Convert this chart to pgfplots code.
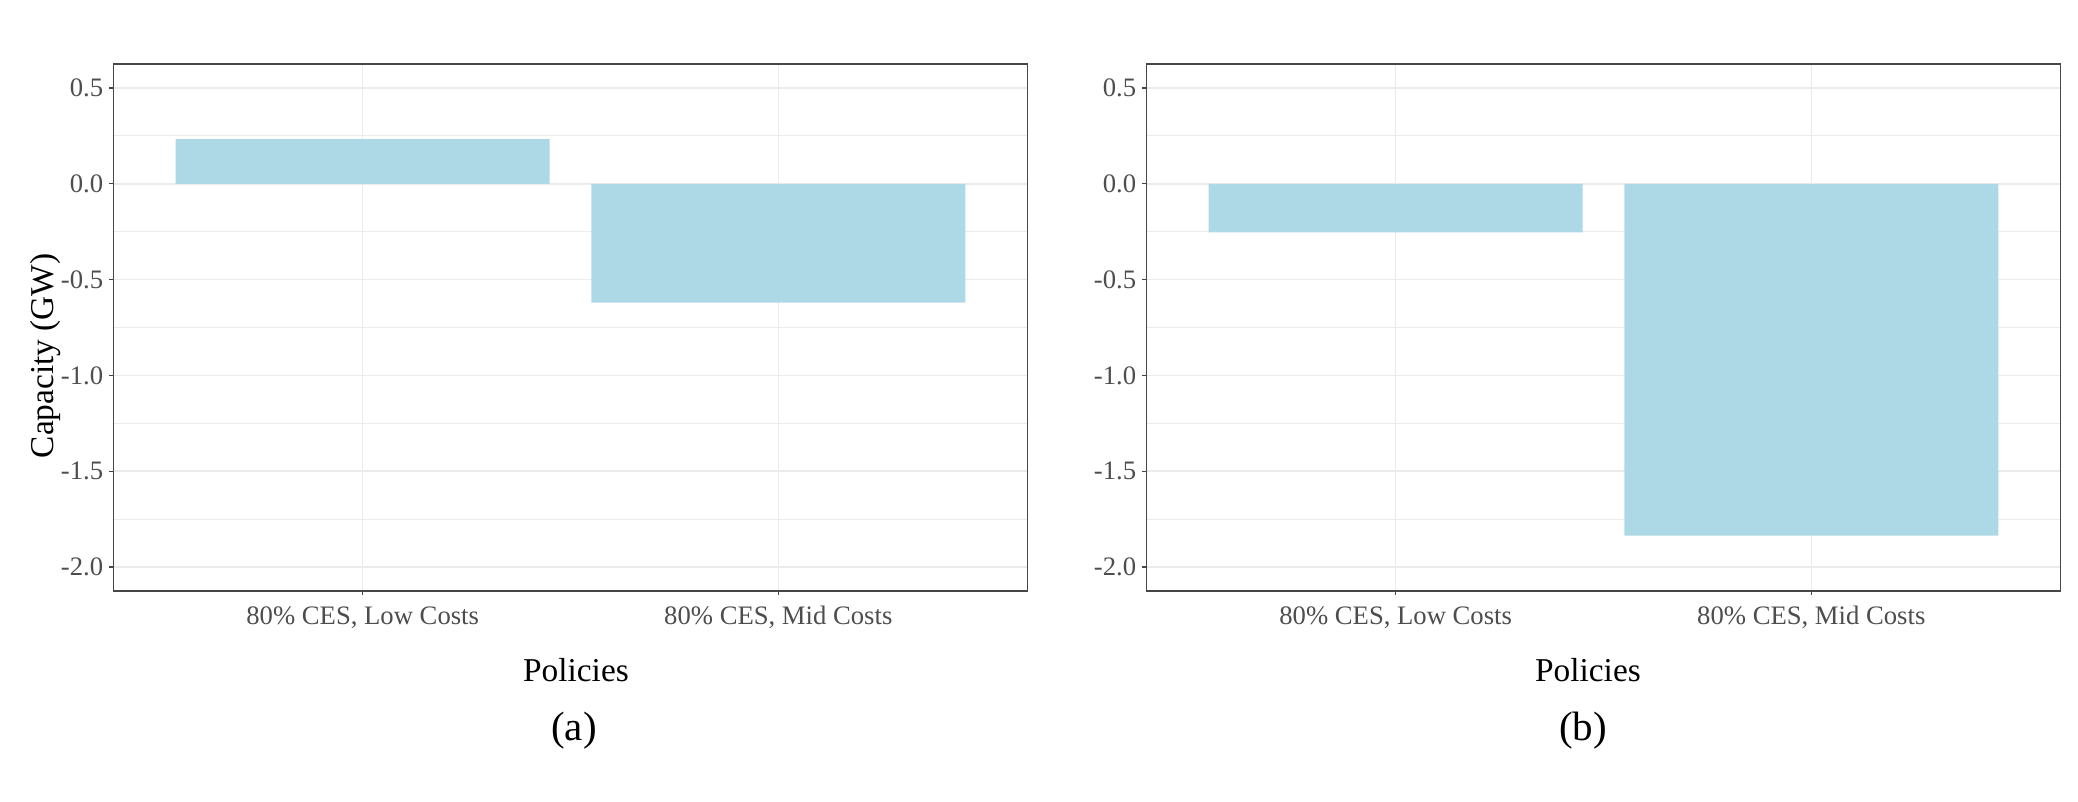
\documentclass[border=0pt]{standalone}
\usepackage{fontspec}
\setmainfont{Liberation Serif}
\usepackage{pgfplots}
\pgfplotsset{compat=1.18}

\definecolor{barblue}{RGB}{173,216,230}
\definecolor{grid92}{RGB}{235,235,235}
\definecolor{grey20}{RGB}{70,70,70}
\definecolor{grey30}{RGB}{77,77,77}

% one ggplot-like panel (theme_bw)
\pgfplotsset{
  ggpanel/.style={
    scale only axis, width=274.3pt, height=158.1pt,
    anchor=south west,
    xmin=0.4, xmax=2.6, ymin=-2.125, ymax=0.625,
    xtick={1,2},
    xticklabels={{80\% CES, Low Costs},{80\% CES, Mid Costs}},
    ytick={-2,-1.5,-1,-0.5,0,0.5},
    yticklabels={-2.0,-1.5,-1.0,-0.5,0.0,0.5},
    minor ytick={-1.75,-1.25,-0.75,-0.25,0.25},
    tick pos=left, tick align=outside,
    major tick length=1.2pt, minor tick length=0pt,
    xmajorgrids, ymajorgrids, yminorgrids,
    major grid style={grid92, line width=0.45pt},
    minor grid style={grid92, line width=0.25pt},
    axis line style={grey20, line width=0.4pt},
    every tick/.style={grey20, line width=0.4pt},
    ticklabel style={font=\fontsize{8.0}{9}\selectfont, text=grey30},
    xticklabel style={anchor=base, yshift=-9.0pt},
    yticklabel style={anchor=east, inner sep=0pt, xshift=-1.65pt},
    label style={font=\fontsize{10.0}{12}\selectfont},
    ybar, bar width=0.9,
  }
}

\begin{document}
\begin{tikzpicture}
\path[use as bounding box] (0,0) rectangle (623.4pt,240.6pt);

% (a)
\begin{axis}[ggpanel, at={(34.0pt,63.3pt)},
  xlabel={Policies},
  xlabel style={at={(axis description cs:0.506,-0.172)}, anchor=base},
  ylabel={Capacity (GW)},
  ylabel style={at={(axis description cs:-0.0655,0.446)}, anchor=base}]
  \addplot[fill=barblue, draw=none] coordinates {(1,0.233) (2,-0.620)};
\end{axis}

% (b)
\begin{axis}[ggpanel, at={(343.9pt,63.3pt)},
  xlabel={Policies},
  xlabel style={at={(axis description cs:0.483,-0.172)}, anchor=base}]
  \addplot[fill=barblue, draw=none] coordinates {(1,-0.254) (2,-1.836)};
\end{axis}

\node[anchor=base, font=\fontsize{12.3}{14}\selectfont] at (172.2pt,18.3pt) {(a)};
\node[anchor=base, font=\fontsize{12.3}{14}\selectfont] at (474.9pt,18.3pt) {(b)};
\end{tikzpicture}
\end{document}
